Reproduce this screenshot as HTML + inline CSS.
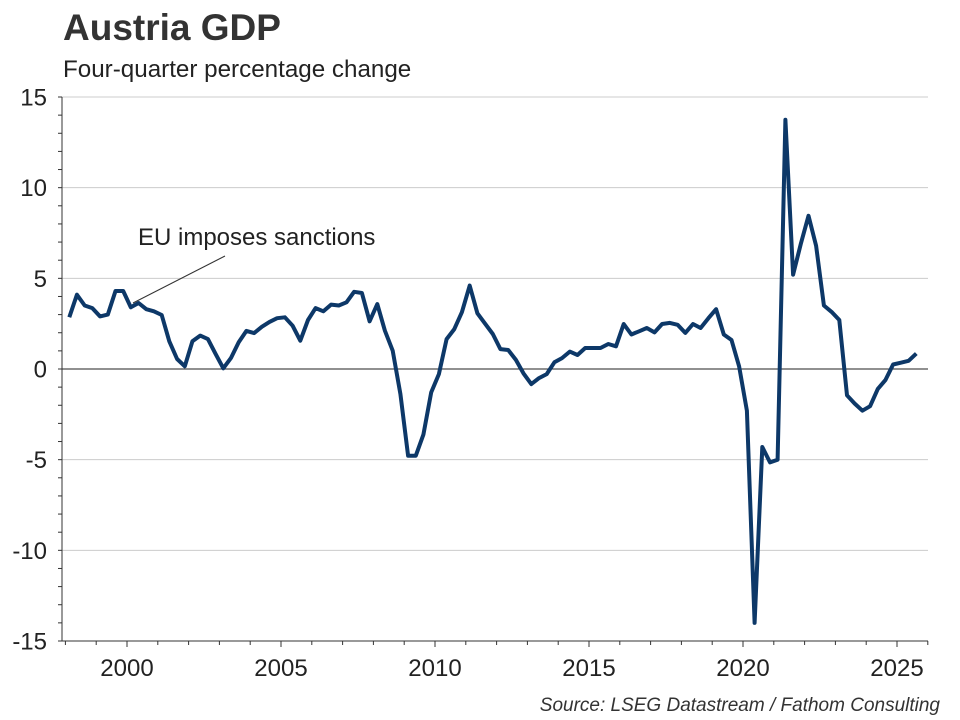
<!DOCTYPE html>
<html><head><meta charset="utf-8"><style>
body{margin:0;background:#fff;}
svg{display:block;font-family:"Liberation Sans",Arial,sans-serif;}
</style></head><body>
<svg id="chart" width="960" height="720">
<text x="63" y="40" font-size="37" font-weight="bold" fill="#333">Austria GDP</text>
<text x="63" y="77" font-size="24.2" fill="#222">Four-quarter percentage change</text>
<g id="grid"></g><g id="axes"></g><g id="series"></g>
<line x1="133" y1="303" x2="225" y2="256" stroke="#333" stroke-width="1"/>
<text x="138" y="245" font-size="24" fill="#222">EU imposes sanctions</text>
<text x="940" y="711" font-size="19" font-style="italic" fill="#333" text-anchor="end">Source: LSEG Datastream / Fathom Consulting</text>
</svg>
<script>
const startYear = 1998;
const gdpValues = [
2.85,4.1,3.5,3.36, 2.9,3.0,4.3,4.3, 3.4,3.64,3.3,3.18, 2.98,1.53,0.55,0.15,
1.53,1.84,1.65,0.83, 0.04,0.6,1.47,2.1, 1.98,2.33,2.6,2.8, 2.85,2.39,1.56,2.7,
3.36,3.18,3.55,3.5, 3.68,4.26,4.19,2.63, 3.58,2.11,1.01,-1.38, -4.78,-4.78,-3.62,-1.29,
-0.28,1.65,2.2,3.13, 4.6,3.07,2.5,1.93, 1.1,1.05,0.5,-0.24, -0.83,-0.5,-0.28,0.37,
0.6,0.96,0.77,1.16, 1.16,1.16,1.38,1.25, 2.48,1.9,2.08,2.26, 2.02,2.48,2.54,2.44,
1.99,2.48,2.26,2.8, 3.3,1.9,1.6,0.15, -2.3,-14.0,-4.3,-5.15, -5.0,13.75,5.2,6.9,
8.45,6.8,3.5,3.15, 2.7,-1.45,-1.9,-2.3, -2.05,-1.1,-0.6,0.25, 0.35,0.45,0.85];
const yTicks = [-15,-10,-5,0,5,10,15];
const xTickYears = [2000,2005,2010,2015,2020,2025];
const NS="http://www.w3.org/2000/svg";
const L=62,R=928,T=97,B=641;
const x=t=>127+(t-2000)*30.8;
const y=v=>369-v*18.133;
function mk(tag,attrs,parent,text){const e=document.createElementNS(NS,tag);for(const k in attrs)e.setAttribute(k,attrs[k]);if(text!==undefined)e.textContent=text;parent.appendChild(e);return e;}
const grid=document.getElementById('grid'),axes=document.getElementById('axes'),series=document.getElementById('series');
yTicks.forEach(v=>{
  const g=mk('line',{x1:L,x2:R,y1:y(v),y2:y(v),stroke:v===0?'#222':'#ccc','stroke-width':1},grid);
  
  
  const t=mk('text',{x:47,y:y(v)+8.5,'font-size':24,fill:'#222','text-anchor':'end'},axes,String(v));
  
  
});
const ya=mk('line',{x1:L,x2:L,y1:T,y2:B,stroke:'#333','stroke-width':1},axes);


for(let v=-15;v<=15;v++){const tk=mk('line',{x1:L-4,x2:L,y1:y(v),y2:y(v),stroke:'#333','stroke-width':1},axes);
  
  }
const xa=mk('line',{x1:L,x2:R,y1:B,y2:B,stroke:'#333','stroke-width':1},axes);


for(let yr=1998;yr<=2026;yr++){const xx=x(yr);if(xx<L||xx>R)continue;
  const tk=mk('line',{x1:xx,x2:xx,y1:B,y2:B+(yr%5===0?6:4),stroke:'#333','stroke-width':1},axes);
  
  }
xTickYears.forEach(yr=>{const t=mk('text',{x:x(yr),y:676,'font-size':24,fill:'#222','text-anchor':'middle'},axes,String(yr));
  
  });
const pts=gdpValues.map((v,i)=>x(startYear+(i+0.5)/4).toFixed(1)+','+y(v).toFixed(1));
const line=mk('polyline',{points:pts.join(' '),fill:'none',stroke:'#0d3868','stroke-width':4,'stroke-linejoin':'round'},series);


</script>
</body></html>
